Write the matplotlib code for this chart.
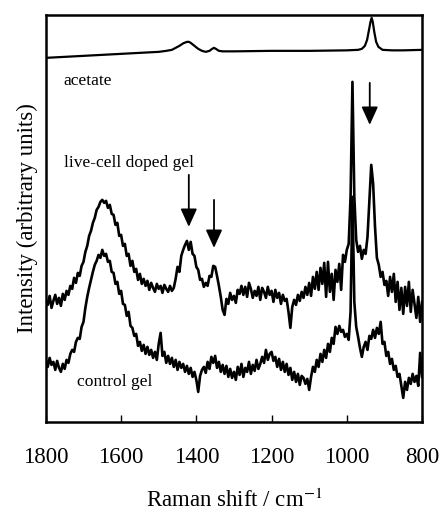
import matplotlib
matplotlib.use("Agg")
import matplotlib.pyplot as plt

plt.rcParams['font.family'] = ['Liberation Serif', 'DejaVu Serif']
plt.rcParams['mathtext.fontset'] = 'stix'

# Raman shift grid for the two gel spectra (cm-1), 5 cm-1 steps
shift = list(range(1800, 795, -5))

# live-cell doped gel (arbitrary units)
doped = [
    122, 117, 126, 114, 121, 127, 118, 124, 116, 128, 122, 131, 127, 136, 133, 144,
    139, 149, 146, 156, 160, 170, 176, 186, 191, 199, 204, 212, 215, 220, 222, 219,
    221, 214, 217, 208, 207, 197, 199, 186, 187, 176, 178, 166, 168, 156, 161, 150,
    153, 142, 148, 138, 143, 136, 141, 132, 139, 134, 130, 138, 133, 136, 129, 137,
    133, 130, 136, 131, 134, 143, 155, 150, 166, 172, 177, 181, 172, 180, 168, 166,
    155, 152, 142, 143, 135, 139, 136, 146, 145, 156, 155, 146, 136, 125, 112, 107,
    123, 118, 129, 122, 126, 119, 132, 128, 136, 127, 135, 125, 139, 133, 124, 131,
    126, 135, 122, 134, 130, 124, 135, 127, 131, 120, 132, 124, 129, 118, 127, 121,
    123, 110, 94, 115, 122, 117, 127, 121, 130, 124, 135, 127, 139, 126, 145, 133,
    150, 132, 154, 138, 159, 125, 160, 130, 148, 122, 152, 140, 158, 132, 167, 160,
    172, 178, 225, 340, 225, 182, 170, 176, 163, 172, 168, 185, 222, 257, 238, 195,
    164, 157, 145, 150, 137, 141, 126, 145, 130, 148, 120, 140, 112, 134, 108, 135,
    116, 140, 110, 132, 118, 104, 125, 100, 120,
]

# control gel
control = [
    62, 55, 64, 57, 60, 52, 61, 54, 50, 58, 53, 62, 59, 68, 72, 70,
    80, 84, 83, 95, 100, 114, 125, 134, 142, 150, 157, 161, 167, 164, 172, 166,
    168, 160, 161, 150, 149, 138, 140, 128, 131, 118, 117, 106, 110, 96, 94, 86,
    88, 76, 80, 71, 77, 68, 75, 67, 72, 64, 70, 62, 78, 89, 66, 70,
    59, 66, 58, 64, 55, 62, 52, 60, 54, 58, 50, 56, 48, 54, 45, 50,
    42, 30, 46, 52, 55, 49, 60, 53, 65, 59, 66, 54, 60, 50, 57, 48,
    56, 45, 53, 44, 50, 42, 55, 47, 58, 45, 54, 50, 60, 48, 57, 51,
    62, 53, 58, 65, 59, 72, 62, 68, 70, 61, 65, 55, 63, 52, 60, 50,
    58, 47, 54, 42, 50, 40, 48, 37, 46, 44, 38, 43, 32, 45, 55, 50,
    62, 55, 68, 60, 72, 64, 78, 70, 84, 78, 95, 88, 96, 90, 92, 85,
    88, 82, 110, 225, 120, 95, 85, 74, 65, 75, 80, 72, 86, 83, 92, 84,
    94, 88, 100, 78, 80, 66, 70, 58, 63, 52, 56, 45, 48, 36, 24, 40,
    32, 44, 38, 48, 40, 46, 36, 69, 45,
]

# acetate reference spectrum (top trace)
acetate_shift = [1800, 1750, 1700, 1650, 1600, 1550, 1500, 1480, 1465, 1455, 1445,
                 1435, 1425, 1420, 1415, 1405, 1395, 1385, 1375, 1365, 1358, 1353,
                 1348, 1340, 1330, 1300, 1200, 1100, 1000, 970, 960, 952, 946, 941,
                 937, 934, 931, 927, 922, 916, 905, 880, 850, 800]
acetate = [364, 365, 366, 367, 368, 369, 370, 371, 372, 374, 376,
           378.5, 380, 380, 379, 376, 373, 371, 370, 371, 373, 374,
           373, 371, 370.5, 370.5, 371, 371, 371.5, 372, 373, 376, 382, 392,
           400, 404, 400, 390, 380, 375, 372, 371.5, 371.5, 372]

labels = ["acetate", "live-cell doped gel", "control gel"]
label_pos = [(1753, 341), (1753, 259), (1718, 40)]

# arrows: (shift, tail height, tip height)
arrows = [(1420, 247, 195), (1353, 222, 174), (939, 339, 297)]

fig = plt.figure(figsize=(4.41, 5.12), dpi=100)
ax = fig.add_axes([0.104, 0.176, 0.853, 0.795])

ax.plot(acetate_shift, acetate, color='black', lw=1.6)
ax.plot(shift, doped, color='black', lw=1.9)
ax.plot(shift, control, color='black', lw=1.9)

for txt, (x, y) in zip(labels, label_pos):
    ax.text(x, y, txt, fontsize=12.6, ha='left', va='center')

for x, y0, y1 in arrows:
    ax.annotate('', xy=(x, y1), xytext=(x, y0),
                arrowprops=dict(arrowstyle='-|>,head_length=1.1,head_width=0.5',
                                color='black', lw=1.3, shrinkA=0, shrinkB=0))

ax.set_xlim(1800, 800)
ax.set_ylim(0, 407)
ax.set_xticks([1800, 1600, 1400, 1200, 1000, 800])
ax.set_yticks([])
ax.tick_params(axis='x', direction='in', length=5, width=1, labelsize=16.5, pad=18)
for s in ax.spines.values():
    s.set_linewidth(1.8)

ax.set_xlabel('Raman shift / cm$^{-1}$', fontsize=16.5, labelpad=15)
ax.set_ylabel('Intensity (arbitrary units)', fontsize=16.5, labelpad=6)

fig.savefig('out.png', dpi=100)
